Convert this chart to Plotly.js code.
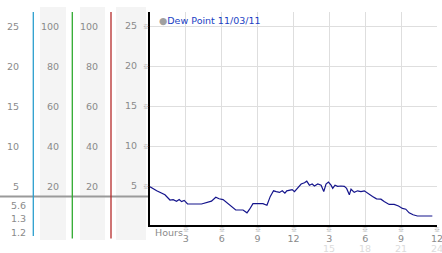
<!DOCTYPE html>
<html><head><meta charset="utf-8">
<script src="https://cdn.plot.ly/plotly-3.0.1.min.js"></script>
<style>html,body{margin:0;padding:0;background:#fff}#c{width:442px;height:253px}</style>
</head><body><div id="c"></div>
<script>
// ---- data ----
const hours = [0,0.56,1.25,1.67,1.94,2.22,2.44,2.64,2.86,3.14,4.31,4.72,5.14,5.5,5.78,6.11,6.44,6.81,7.17,7.78,8.11,8.33,8.61,9.44,9.78,10.06,10.33,10.56,10.83,11.06,11.28,11.44,11.67,11.89,12.08,12.36,12.64,12.92,13.11,13.33,13.56,13.75,14.03,14.31,14.53,14.72,14.92,15.14,15.28,15.47,15.69,15.97,16.25,16.44,16.67,16.81,17.08,17.36,17.64,17.92,18.19,18.61,18.94,19.31,19.58,20.0,20.42,20.78,21.11,21.39,21.67,22.0,22.36,23.61];
const dewPoint = [4.9,4.4,3.9,3.25,3.3,3.1,3.3,3.05,3.2,2.75,2.75,2.9,3.1,3.6,3.4,3.3,2.9,2.4,2.0,2.0,1.65,2.1,2.8,2.8,2.6,3.7,4.4,4.3,4.2,4.4,4.1,4.4,4.5,4.55,4.3,4.8,5.25,5.4,5.6,5.1,5.25,5.0,5.25,5.1,4.3,5.25,5.5,5.1,4.7,5.1,4.95,5.0,4.95,4.7,3.9,4.6,4.2,4.4,4.3,4.4,4.1,3.7,3.4,3.35,3.05,2.7,2.7,2.5,2.2,2.1,1.65,1.4,1.25,1.25];
const seriesName = "Dew Point 11/03/11";
const yTickVals = [5,10,15,20,25];
const yTickText = ["5","10","15","20","25"];
const col1Labels = ["5","10","15","20","25"];
const col2Labels = ["20","40","60","80","100"];
const col3Labels = ["20","40","60","80","100"];
const statLabels = ["5.6","1.3","1.2"];
const xTickVals = [3,6,9,12,15,18,21,24];
const xTickText = ["3","6","9","12","3","6","9","12"];
const xTickText2 = ["","","","","15","18","21","24"];
const xAxisLabel = "Hours";
const tickMark = "\u203B";

// ---- layout helpers (pixel -> paper) ----
const L=150, T=12, W=287, H=213;
const px = x => (x-L)/W;
const py = y => (T+H-y)/H;
const font = "DejaVu Sans, Verdana, sans-serif";
const markFont = "Noto Sans CJK JP, DejaVu Sans";
const gray = "#8a8a8a";

const shapes = [];
// gray column bands
[[40,66],[80,105],[116,146]].forEach(([a,b])=>shapes.push({type:'rect',xref:'paper',yref:'paper',x0:px(a),x1:px(b),y0:py(240),y1:py(7),fillcolor:'#f4f4f4',line:{width:0},layer:'below'}));
// horizontal gray line
shapes.push({type:'line',xref:'paper',yref:'paper',x0:px(0),x1:px(148),y0:py(196.5),y1:py(196.5),line:{color:'#9a9a9a',width:2}});
// colored vertical lines
[[33.3,'#2b9fce',236],[72.3,'#2faa2f',238.5],[111,'#b52a2a',238.5]].forEach(([x,c,b])=>shapes.push({type:'line',xref:'paper',yref:'paper',x0:px(x),x1:px(x),y0:py(b),y1:py(12),line:{color:c,width:1.3}}));

const ann = [];
const addCol = (labels, xr) => labels.forEach((t,i)=>ann.push({xref:'paper',yref:'y',x:px(xr),y:yTickVals[i],text:t,showarrow:false,xanchor:'right',yanchor:'middle',font:{family:font,size:9.5,color:gray}}));
addCol(col1Labels, 21);
addCol(col2Labels, 61);
addCol(col3Labels, 100);
statLabels.forEach((t,i)=>ann.push({xref:'paper',yref:'paper',x:px(27.5),y:py([205,218.5,232][i]),text:t,showarrow:false,xanchor:'right',yanchor:'middle',font:{family:font,size:9.5,color:gray}}));
// y tick marks
yTickVals.forEach(v=>ann.push({xref:'paper',yref:'y',x:px(145.5),y:v,text:tickMark,showarrow:false,xanchor:'center',yanchor:'middle',font:{family:markFont,size:6,color:'#9a9a9a'}}));
// x tick marks and secondary labels
xTickVals.forEach((v,i)=>{
  ann.push({xref:'x',yref:'paper',x:v,y:py(230),text:tickMark,showarrow:false,xanchor:'center',yanchor:'middle',font:{family:markFont,size:6,color:'#9a9a9a'}});
  if(xTickText2[i]) ann.push({xref:'x',yref:'paper',x:v,y:py(248.5),text:xTickText2[i],showarrow:false,xanchor:'center',yanchor:'middle',font:{family:font,size:9.5,color:'#dcdcdc'}});
});
ann.push({xref:'paper',yref:'paper',x:px(152.5),y:py(232),text:xAxisLabel,showarrow:false,xanchor:'left',yanchor:'middle',font:{family:font,size:9.5,color:gray}});
// legend
ann.push({xref:'paper',yref:'paper',x:px(157),y:py(20.5),text:'<span style="color:#a0a0a0">\u25CF</span>'+seriesName,showarrow:false,xanchor:'left',yanchor:'middle',font:{family:font,size:9.5,color:'#1a3fc4'}});

const trace = {x:hours,y:dewPoint,type:'scatter',mode:'lines',name:seriesName,line:{color:'#14148c',width:1.2},hoverinfo:'skip'};

const layout = {
  width:442,height:253,
  margin:{l:L,r:442-L-W,t:T,b:253-T-H,pad:0},
  paper_bgcolor:'#fff',plot_bgcolor:'#fff',
  showlegend:false,
  font:{family:font,size:9.5,color:gray},
  xaxis:{range:[0,24],tickvals:xTickVals,ticktext:xTickText,showgrid:true,gridcolor:'#dedede',gridwidth:1,zeroline:false,showline:true,linecolor:'#000',linewidth:2,ticks:'',ticklabelstandoff:4,ticklabeloverflow:'allow',tickfont:{family:font,size:9.5,color:gray},fixedrange:true},
  yaxis:{range:[0.125,26.75],tickvals:yTickVals,ticktext:yTickText,showgrid:true,gridcolor:'#dedede',gridwidth:1,zeroline:false,showline:true,linecolor:'#000',linewidth:2,ticks:'',ticklabelstandoff:9,tickfont:{family:font,size:9.5,color:gray},fixedrange:true},
  shapes:shapes,annotations:ann
};
Plotly.newPlot('c',[trace],layout,{staticPlot:true,displayModeBar:false});
</script></body></html>
